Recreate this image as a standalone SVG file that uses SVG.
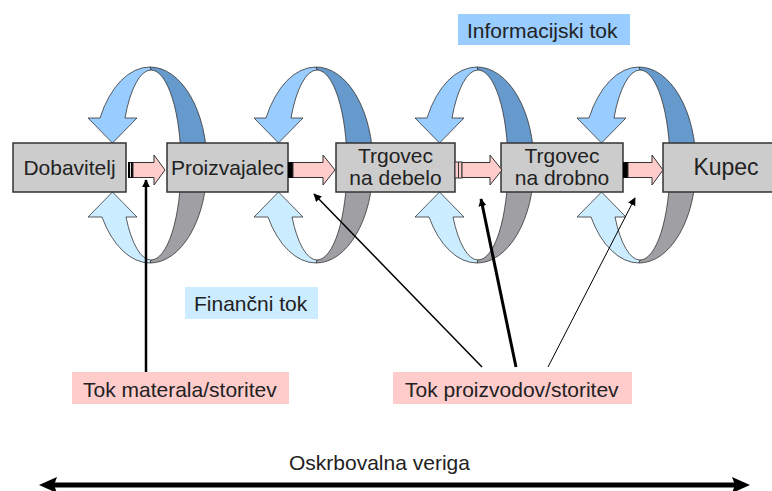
<svg xmlns="http://www.w3.org/2000/svg" width="772" height="491" viewBox="0 0 772 491">
<defs>
<style>
.lb{fill:#99CCFF;stroke:#333;stroke-width:0.8}
.db{fill:#6699CC;stroke:#333;stroke-width:0.8}
.gr{fill:#A0A0A4;stroke:#333;stroke-width:0.8}
.lc{fill:#CCECFF;stroke:#333;stroke-width:0.8}
.box{fill:#CCCCCC;stroke:#333;stroke-width:1.5}
.pa{fill:#FFCCCC;stroke:#333;stroke-width:1}
.t{font-family:"Liberation Sans",Arial,sans-serif;font-size:21px;fill:#222}
.ptr{stroke:#000;fill:none}
</style>
<marker id="ah" viewBox="0 0 10 10" refX="9" refY="5" markerWidth="5" markerHeight="5" orient="auto" markerUnits="userSpaceOnUse">
<path d="M0,0 L10,5 L0,10 Z" fill="#000"/>
</marker>
<marker id="ahs" viewBox="0 0 10 10" refX="9" refY="5" markerWidth="8" markerHeight="8" orient="auto" markerUnits="userSpaceOnUse">
<path d="M0,0 L10,5 L0,10 Z" fill="#000"/>
</marker>
<marker id="big" viewBox="0 0 10 10" refX="9" refY="5" markerWidth="18" markerHeight="16" orient="auto" markerUnits="userSpaceOnUse" preserveAspectRatio="none">
<path d="M0,0 L10,5 L0,10 L2,5 Z" fill="#000"/>
</marker>
<g id="loop">
<path class="db" d="M0,67 A57,98 0 0 1 57,165 L31,165 A30,95 0 0 0 1,70 Z"/>
<path class="gr" d="M57,165 A57,98 0 0 1 0,263 L1,260 A30,95 0 0 0 31,165 Z"/>
<path class="lb" d="M-50,118 A57,98 0 0 1 0,67 L1,70 A30,95 0 0 0 -25,118 L-13,118 L-37.5,143 L-62,118 Z"/>
<path class="lc" d="M0,263 A57,98 0 0 1 -48,217 L-62,217 L-37.5,192 L-13,217 L-24,217 A30,95 0 0 0 1,260 Z"/>
</g>
</defs>
<rect width="772" height="491" fill="#fff"/>
<g id="loops">
<use href="#loop" x="150"/>
<use href="#loop" x="316"/>
<use href="#loop" x="477"/>
<use href="#loop" x="639"/>
</g>
<g id="labels">
<g id="info"><rect x="458" y="14" width="172" height="31" fill="#99CCFF"/><text class="t" x="467" y="38">Informacijski tok</text></g>
<g id="fin"><rect x="185" y="287" width="133" height="32" fill="#CCECFF"/><text class="t" x="194" y="311">Finančni tok</text></g>
<g id="mat"><rect x="72" y="372" width="217" height="32" fill="#FFCCCC"/><text class="t" x="83" y="397">Tok materala/storitev</text></g>
<g id="proiz"><rect x="393" y="372" width="239" height="32" fill="#FFCCCC"/><text class="t" x="405" y="397">Tok proizvodov/storitev</text></g>
<g id="veriga"><text class="t" x="289" y="470">Oskrbovalna veriga</text></g>
</g>
<g id="dobavitelj"><rect class="box" x="13" y="143" width="113" height="49"/><text class="t" x="69.5" y="175" text-anchor="middle">Dobavitelj</text></g>
<g id="proizvajalec"><rect class="box" x="167" y="143" width="121" height="49"/><text class="t" x="227.5" y="175" text-anchor="middle">Proizvajalec</text></g>
<g id="debelo"><rect class="box" x="336" y="143" width="119" height="49"/><text class="t" x="395.5" y="163" text-anchor="middle">Trgovec</text><text class="t" x="395.5" y="185" text-anchor="middle">na debelo</text></g>
<g id="drobno"><rect class="box" x="501" y="143" width="122" height="49"/><text class="t" x="562" y="163" text-anchor="middle">Trgovec</text><text class="t" x="562" y="185" text-anchor="middle">na drobno</text></g>
<g id="kupec"><rect class="box" x="663" y="143" width="112" height="49"/><text class="t" x="726" y="175" text-anchor="middle" style="font-size:23px">Kupec</text></g>
<g id="connectors">
<g id="a1"><rect x="128" y="162" width="5" height="16" fill="#000"/><line x1="130.5" y1="163" x2="130.5" y2="177" stroke="#ddd" stroke-width="1"/><path class="pa" d="M133,162.5 H154 V155 L165,170 L154,185 V177.5 H133 Z"/></g>
<g id="a2"><rect x="288" y="162" width="5" height="16" fill="#000"/><path class="pa" d="M293,162.5 H323 V155 L335,170 L323,185 V177.5 H293 Z"/></g>
<g id="a3"><rect x="455" y="162" width="7" height="16" fill="#FFCCCC" stroke="#333" stroke-width="1"/><line x1="458.5" y1="162" x2="458.5" y2="178" stroke="#333" stroke-width="1"/><path class="pa" d="M462,162.5 H490 V155 L502,170 L490,185 V177.5 H462 Z"/></g>
<g id="a4"><rect x="623" y="162" width="5" height="16" fill="#000"/><path class="pa" d="M628,162.5 H652 V155 L663,170 L652,185 V177.5 H628 Z"/></g>
<line class="ptr" x1="146" y1="372" x2="146" y2="180" stroke-width="2.5" marker-end="url(#ahs)"/>
<line class="ptr" x1="482" y1="367" x2="314" y2="194" stroke-width="1.5" marker-end="url(#ahs)"/>
<line class="ptr" x1="516" y1="367" x2="481" y2="199" stroke-width="3" marker-end="url(#ahs)"/>
<line class="ptr" x1="548" y1="367" x2="635" y2="198" stroke-width="1" marker-end="url(#ahs)"/>
<line class="ptr" x1="50" y1="485" x2="740" y2="485" stroke-width="5"/>
<path d="M39,485 L57,477 L54,485 L57,493 Z" fill="#000"/>
<path d="M750,485 L732,477 L735,485 L732,493 Z" fill="#000"/>
</g>
</svg>
